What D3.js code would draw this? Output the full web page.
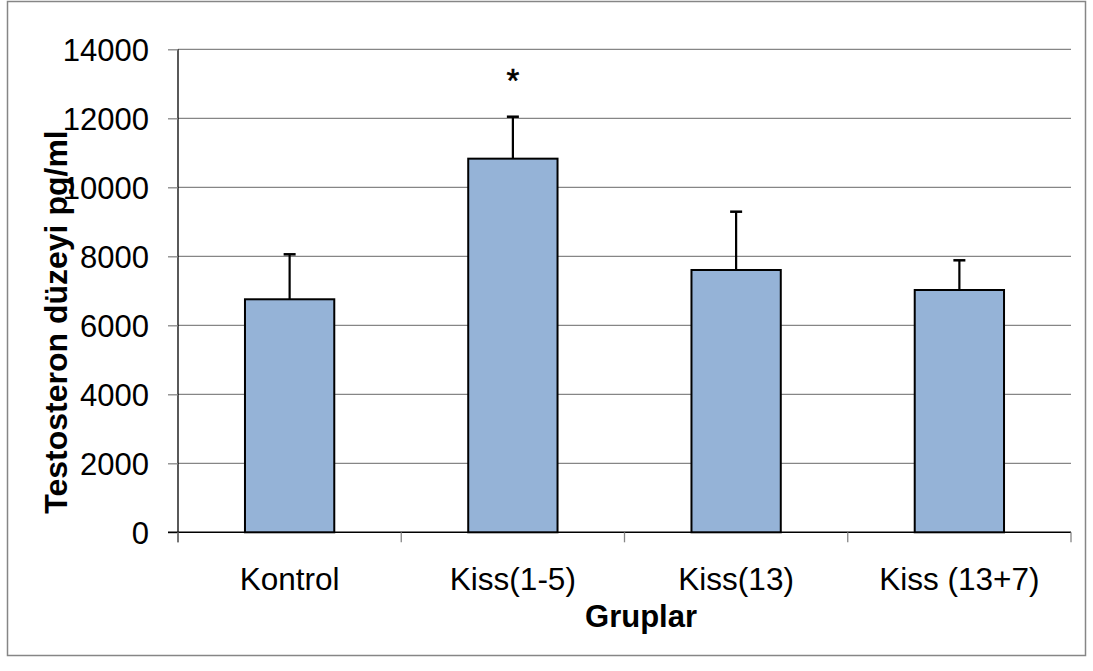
<!DOCTYPE html>
<html>
<head>
<meta charset="utf-8">
<script src="https://cdn.jsdelivr.net/npm/d3@7"></script>
<style>
  body { margin: 0; background: #fff; }
  svg { display: block; }
  text { font-family: "Liberation Sans", Arial, sans-serif; fill: #000; }
</style>
</head>
<body>
<svg id="chart" width="1093" height="671"></svg>
<script>
const categories = ["Kontrol", "Kiss(1-5)", "Kiss(13)", "Kiss (13+7)"];
const values = [6754, 10830, 7603, 7023];
const errors = [1304, 1216, 1690, 861];
const yTicks = [0, 2000, 4000, 6000, 8000, 10000, 12000, 14000];
const significance = ["", "*", "", ""];
const xTitle = "Gruplar";
const yTitle = "Testosteron düzeyi pg/ml";

const svg = d3.select("#chart");
const plot = { left: 178, right: 1071, top: 49.3, bottom: 532.3 };

// outer border
svg.append("rect")
  .attr("x", 7.5).attr("y", 1.5).attr("width", 1078).attr("height", 654)
  .attr("fill", "none").attr("stroke", "#868686").attr("stroke-width", 1.5);

const x = d3.scaleBand().domain(categories).range([plot.left, plot.right]).paddingInner(0.6).paddingOuter(0.3);
const xOuter = d3.scaleBand().domain(categories).range([plot.left, plot.right]).padding(0);
const y = d3.scaleLinear().domain([0, 14000]).range([plot.bottom, plot.top]);

// gridlines
svg.append("g").selectAll("line").data(yTicks.filter(d => d > 0)).join("line")
  .attr("x1", plot.left).attr("x2", plot.right)
  .attr("y1", d => y(d)).attr("y2", d => y(d))
  .attr("stroke", "#868686").attr("stroke-width", 1.3);

// y axis
const yAxis = d3.axisLeft(y).tickValues(yTicks).tickSize(10).tickPadding(19).tickFormat(d3.format("d"));
const gy = svg.append("g").attr("transform", `translate(${plot.left},0)`).call(yAxis);
gy.select(".domain").attr("stroke", "#000").attr("stroke-width", 1.3).attr("d", `M0,${plot.top}V${plot.bottom + 10}`);
gy.selectAll(".tick line").attr("stroke", "#868686").attr("stroke-width", 1.3);
gy.selectAll(".tick text").attr("font-size", 31).attr("font-family", "Liberation Sans, Arial, sans-serif").attr("fill", "#000").attr("dy", "0.35em");

// x axis with ticks at category boundaries
const gx = svg.append("g").attr("transform", `translate(0,${plot.bottom})`);
gx.append("line").attr("x1", plot.left - 10).attr("x2", plot.right).attr("y1", 0).attr("y2", 0)
  .attr("stroke", "#000").attr("stroke-width", 1.5);
const boundaries = categories.map(c => xOuter(c)).concat([xOuter(categories[categories.length - 1]) + xOuter.bandwidth()]);
gx.selectAll("line.bt").data(boundaries).join("line").attr("class", "bt")
  .attr("x1", d => d).attr("x2", d => d).attr("y1", 0).attr("y2", 10)
  .attr("stroke", "#868686").attr("stroke-width", 1.3);
gx.selectAll("text.cat").data(categories).join("text").attr("class", "cat")
  .attr("x", d => xOuter(d) + xOuter.bandwidth() / 2)
  .attr("y", 58).attr("text-anchor", "middle").attr("font-size", 31.5)
  .text(d => d);

// error bars
const eb = svg.append("g");
categories.forEach((c, i) => {
  const cx = x(c) + x.bandwidth() / 2;
  eb.append("line").attr("x1", cx).attr("x2", cx)
    .attr("y1", y(values[i])).attr("y2", y(values[i] + errors[i]))
    .attr("stroke", "#000").attr("stroke-width", 2.2);
  eb.append("line").attr("x1", cx - 6).attr("x2", cx + 6)
    .attr("y1", y(values[i] + errors[i])).attr("y2", y(values[i] + errors[i]))
    .attr("stroke", "#000").attr("stroke-width", 2.5);
});

// bars
svg.append("g").selectAll("rect").data(categories).join("rect")
  .attr("x", d => x(d)).attr("width", x.bandwidth())
  .attr("y", (d, i) => y(values[i])).attr("height", (d, i) => y(0) - y(values[i]))
  .attr("fill", "#95B3D7").attr("stroke", "#000").attr("stroke-width", 2);

// significance marks
svg.append("g").selectAll("text").data(categories).join("text")
  .attr("x", d => x(d) + x.bandwidth() / 2)
  .attr("y", (d, i) => y(values[i] + errors[i]) - 25)
  .attr("text-anchor", "middle").attr("font-size", 33)
  .attr("stroke", "#000").attr("stroke-width", 0.6)
  .text((d, i) => significance[i]);

// axis titles
svg.append("text").attr("x", 641).attr("y", 627)
  .attr("text-anchor", "middle").attr("font-size", 31).attr("font-weight", "bold")
  .text(xTitle);
svg.append("text").attr("transform", `translate(66.5,322) rotate(-90)`)
  .attr("text-anchor", "middle").attr("font-size", 32).attr("font-weight", "bold")
  .text(yTitle);
</script>
</body>
</html>
